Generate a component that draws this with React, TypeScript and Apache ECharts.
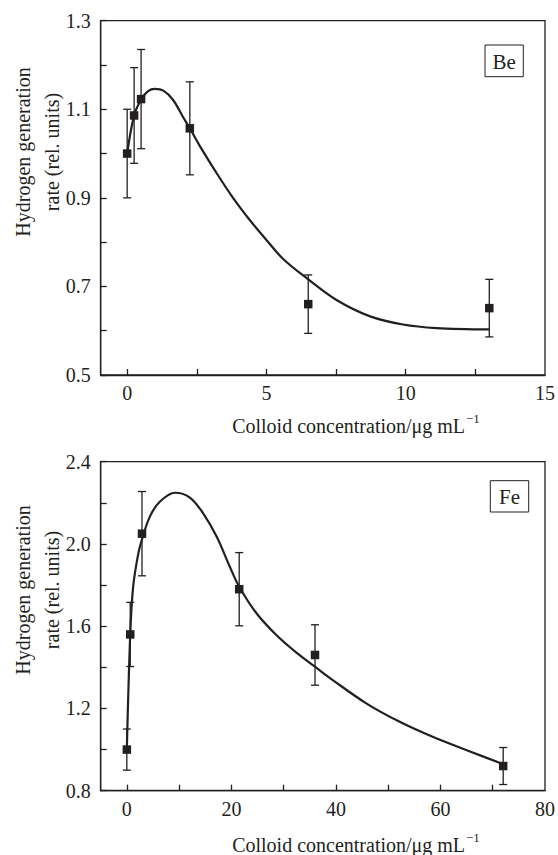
import React, { useEffect, useRef } from "react";
import * as echarts from "echarts";

// ---- Be panel data ----
const beX = [0, 0.25, 0.5, 2.25, 6.5, 13];
const beY = [1.0, 1.086, 1.123, 1.057, 0.66, 0.651];
const beErr = [0.1, 0.108, 0.112, 0.105, 0.066, 0.065];
const beCurveX = [0, 0.25, 0.5, 0.75, 1.0, 1.3, 1.65, 2.0, 2.25, 2.6, 3.2, 3.8, 4.4, 5.0, 5.6, 6.5, 7.5, 8.7, 9.9, 11.1, 13];
const beCurveY = [1.0, 1.086, 1.122, 1.141, 1.146, 1.142, 1.121, 1.083, 1.057, 1.018, 0.957, 0.9, 0.85, 0.805, 0.762, 0.716, 0.67, 0.633, 0.614, 0.606, 0.603];
const beXTicks = [0, 2.5, 5, 7.5, 10, 12.5];
const beXLabels = [0, 5, 10, 15];
const beYLabels = [0.5, 0.7, 0.9, 1.1, 1.3];

// ---- Fe panel data ----
const feX = [0, 0.65, 2.9, 21.5, 36, 72];
const feY = [1.0, 1.56, 2.05, 1.78, 1.46, 0.92];
const feErr = [0.1, 0.156, 0.205, 0.178, 0.147, 0.09];
const feCurveX = [0, 0.65, 1.2, 2.2, 3, 4.4, 6.3, 9.2, 12, 14.6, 17.2, 19.7, 21.5, 24.8, 28.6, 32.5, 36, 39.4, 45.8, 52.2, 58.5, 64.9, 71.3, 72];
const feCurveY = [1.0, 1.56, 1.79, 1.954, 2.03, 2.133, 2.205, 2.249, 2.227, 2.149, 2.035, 1.889, 1.792, 1.663, 1.557, 1.47, 1.403, 1.338, 1.225, 1.135, 1.062, 0.998, 0.936, 0.93];
const feXTicks = [0, 10, 20, 30, 40, 50, 60, 70];
const feXLabels = [0, 20, 40, 60, 80];
const feYLabels = [0.8, 1.2, 1.6, 2.0, 2.4];

const yTitleLines = ["Hydrogen generation", "rate (rel. units)"];
const xTitle = "Colloid concentration/μg mL";
const xTitleSup = "−1";
const panelLabels = ["Be", "Fe"];

const INK = "#231f20";
const FONT = "Liberation Serif";

function zip(a: number[], b: number[]) {
  return a.map((v, i) => [v, b[i]]);
}
function zip3(a: number[], b: number[], c: number[]) {
  return a.map((v, i) => [v, b[i], c[i]]);
}

const errorRender = (params: any, api: any) => {
  const x = api.value(0);
  const y = api.value(1);
  const e = api.value(2);
  const top = api.coord([x, y + e]);
  const bot = api.coord([x, y - e]);
  const hw = 4;
  const st = { stroke: INK, lineWidth: 1.3 };
  return {
    type: "group",
    children: [
      { type: "line", shape: { x1: top[0], y1: top[1], x2: bot[0], y2: bot[1] }, style: st },
      { type: "line", shape: { x1: top[0] - hw, y1: top[1], x2: top[0] + hw, y2: top[1] }, style: st },
      { type: "line", shape: { x1: bot[0] - hw, y1: bot[1], x2: bot[0] + hw, y2: bot[1] }, style: st },
    ],
  };
};

const tickRich = { t: { fontFamily: FONT, fontSize: 20, color: INK } };

function xAxisCfg(gridIndex: number, min: number, max: number, ticks: number[], labels: number[]) {
  return {
    type: "value",
    gridIndex,
    min,
    max,
    splitLine: { show: false },
    axisLine: { show: true, onZero: false, lineStyle: { color: INK, width: 1.3 } },
    axisTick: { show: true, inside: true, length: 6, customValues: ticks, lineStyle: { color: INK, width: 1.3 } },
    axisLabel: {
      customValues: labels,
      color: INK,
      fontFamily: FONT,
      fontSize: 20,
      margin: 8,
      rich: tickRich,
      formatter: (v: number) => "{t|" + String(v) + "}",
    },
  };
}

function yAxisCfg(gridIndex: number, min: number, max: number, interval: number, labels: number[]) {
  return {
    type: "value",
    gridIndex,
    min,
    max,
    interval,
    splitLine: { show: false },
    axisLine: { show: true, onZero: false, lineStyle: { color: INK, width: 1.3 } },
    axisTick: { show: true, inside: true, length: 6, lineStyle: { color: INK, width: 1.3 } },
    axisLabel: {
      customValues: labels,
      color: INK,
      fontFamily: FONT,
      fontSize: 20,
      margin: 10,
      rich: tickRich,
      formatter: (v: number) => "{t|" + v.toFixed(1) + "}",
    },
  };
}

function titleText(x: number, y: number) {
  return {
    type: "text",
    x,
    y,
    style: {
      text: "{m|" + xTitle + "}{s|" + xTitleSup + "}",
      align: "center",
      verticalAlign: "middle",
      fill: INK,
      rich: {
        m: { fontFamily: FONT, fontSize: 20, fill: INK, lineHeight: 24, verticalAlign: "bottom" },
        s: { fontFamily: FONT, fontSize: 13, fill: INK, lineHeight: 24, verticalAlign: "top", padding: [0, 0, 10, 1] },
      },
    },
  };
}

function yTitleText(x: number, y: number) {
  return {
    type: "text",
    x,
    y,
    rotation: Math.PI / 2,
    style: {
      text: yTitleLines.map((l) => "{t|" + l + "}").join("\n"),
      align: "center",
      verticalAlign: "middle",
      fill: INK,
      rich: { t: { fontFamily: FONT, fontSize: 20, fill: INK, lineHeight: 29, align: "center" } },
    },
  };
}

function boxLabel(x: number, y: number, w: number, h: number, t: string) {
  return {
    type: "group",
    children: [
      { type: "rect", shape: { x, y, width: w, height: h }, style: { fill: "#fff", stroke: INK, lineWidth: 1 } },
      {
        type: "text",
        x: x + w / 2,
        y: y + h / 2 + 1,
        style: { text: t, align: "center", verticalAlign: "middle", fill: INK, fontFamily: FONT, fontSize: 21 },
      },
    ],
  };
}

export default function App() {
  const ref = useRef<HTMLDivElement>(null);
  useEffect(() => {
    document.body.style.margin = "0";
    if (!ref.current) return;
    const chart = echarts.init(ref.current, undefined, { renderer: "svg" });
    const curveStyle = { color: INK, width: 2.2 };
    const option: any = {
      animation: false,
      backgroundColor: "#fff",
      textStyle: { fontFamily: FONT },
      grid: [
        { left: 100.7, top: 20.7, width: 445, height: 354.3, show: true, borderColor: INK, borderWidth: 1.3, backgroundColor: "transparent" },
        { left: 100.7, top: 461.7, width: 445, height: 329, show: true, borderColor: INK, borderWidth: 1.3, backgroundColor: "transparent" },
      ],
      xAxis: [
        xAxisCfg(0, -0.95, 15, beXTicks, beXLabels),
        xAxisCfg(1, -5, 80, feXTicks, feXLabels),
      ],
      yAxis: [
        yAxisCfg(0, 0.5, 1.3, 0.1, beYLabels),
        yAxisCfg(1, 0.8, 2.4, 0.2, feYLabels),
      ],
      series: [
        {
          type: "line",
          xAxisIndex: 0,
          yAxisIndex: 0,
          data: zip(beCurveX, beCurveY),
          smooth: 0.35,
          showSymbol: false,
          lineStyle: curveStyle,
          z: 2,
        },
        {
          type: "custom",
          xAxisIndex: 0,
          yAxisIndex: 0,
          data: zip3(beX, beY, beErr),
          renderItem: errorRender,
          encode: { x: 0, y: 1 },
          z: 3,
        },
        {
          type: "scatter",
          xAxisIndex: 0,
          yAxisIndex: 0,
          data: zip(beX, beY),
          symbol: "rect",
          symbolSize: 8.5,
          itemStyle: { color: INK, opacity: 1 },
          z: 4,
        },
        {
          type: "line",
          xAxisIndex: 1,
          yAxisIndex: 1,
          data: zip(feCurveX, feCurveY),
          smooth: 0.35,
          showSymbol: false,
          lineStyle: curveStyle,
          z: 2,
        },
        {
          type: "custom",
          xAxisIndex: 1,
          yAxisIndex: 1,
          data: zip3(feX, feY, feErr),
          renderItem: errorRender,
          encode: { x: 0, y: 1 },
          z: 3,
        },
        {
          type: "scatter",
          xAxisIndex: 1,
          yAxisIndex: 1,
          data: zip(feX, feY),
          symbol: "rect",
          symbolSize: 8.5,
          itemStyle: { color: INK, opacity: 1 },
          z: 4,
        },
      ],
      graphic: [
        yTitleText(37, 152),
        yTitleText(37, 590),
        titleText(356, 424),
        titleText(356, 843),
        boxLabel(485, 45, 38.3, 31.7, panelLabels[0]),
        boxLabel(490.3, 480.7, 38.4, 31.3, panelLabels[1]),
      ],
    };
    chart.setOption(option);
    return () => chart.dispose();
  }, []);
  return <div ref={ref} style={{ width: 558, height: 855 }} />;
}
